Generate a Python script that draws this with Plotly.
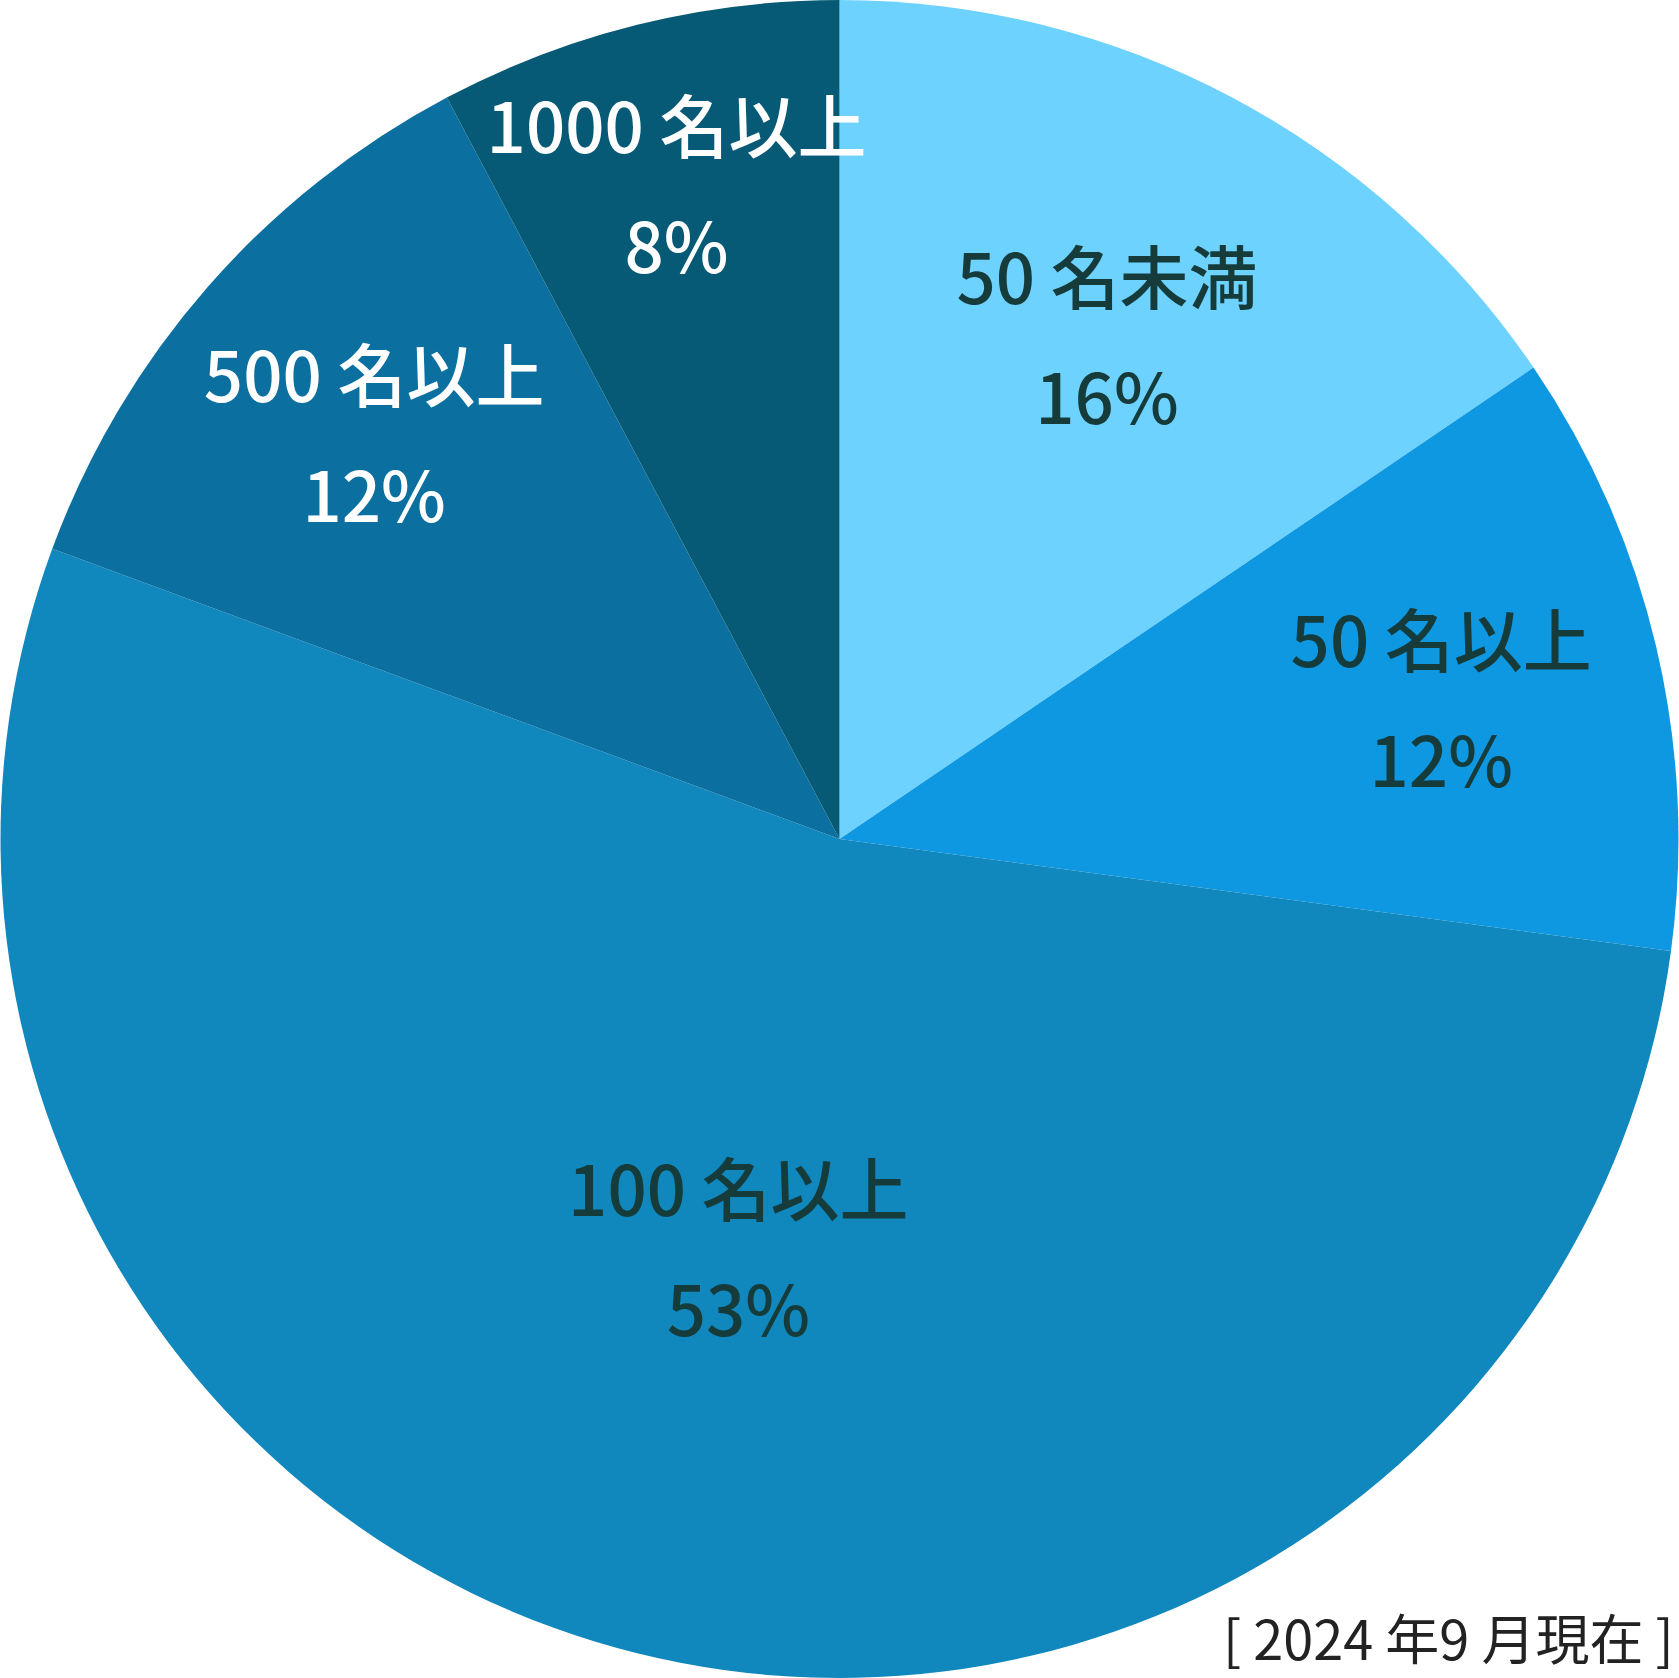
import plotly.graph_objects as go

# data: companies by headcount (slice sizes, 129 in total)
labels = ["50 名未満", "50 名以上", "100 名以上", "500 名以上", "1000 名以上"]
counts = [20, 15, 69, 15, 10]
colors = ["#6dd2fe", "#0f98e2", "#1087bd", "#0b70a0", "#075a76"]
text_colors = ["#163b3b", "#163b3b", "#163b3b", "#ffffff", "#ffffff"]
note = "[ 2024 年9 月現在 ]"

font = "Noto Sans CJK JP"
glyph = "<span style='font-size:69px'>{}</span>"

fig = go.Figure(go.Pie(
    labels=labels,
    values=counts,
    sort=False,
    direction="clockwise",
    rotation=0,
    marker=dict(colors=colors, line=dict(width=0)),
    # outer font size sets the line gap, inner span sets the glyph size
    texttemplate=glyph.format("%{label}") + "<br>" + glyph.format("%{percent:.0%}"),
    textposition="inside",
    insidetextorientation="horizontal",
    textfont=dict(family=font, size=92, color=text_colors, weight=500),
    hoverinfo="label+percent",
    showlegend=False,
    domain=dict(x=[0, 1], y=[0, 1]),
))

fig.add_annotation(
    text=note, xref="paper", yref="paper", x=0.998, y=0.0,
    xanchor="right", yanchor="bottom", showarrow=False,
    font=dict(family=font, size=54, color="#222222"),
)

fig.update_layout(
    width=1679, height=1678,
    margin=dict(l=0, r=0, t=0, b=0),
    paper_bgcolor="white",
    uniformtext=dict(minsize=92, mode="show"),
)

fig.write_html("out.html", config={"displayModeBar": False},
               post_script="document.body.style.margin = '0';")
